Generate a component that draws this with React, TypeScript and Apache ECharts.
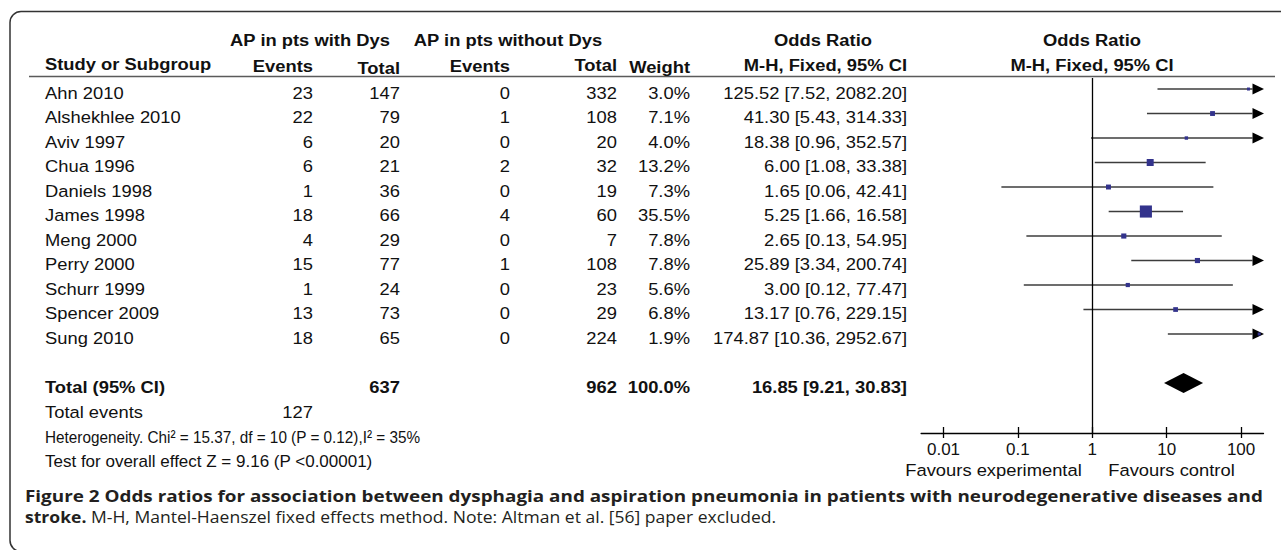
import React, { useEffect, useRef } from "react";
import * as echarts from "echarts";

// ---------- data ----------
const studies = [
  "Ahn 2010",
  "Alshekhlee 2010",
  "Aviv 1997",
  "Chua 1996",
  "Daniels 1998",
  "James 1998",
  "Meng 2000",
  "Perry 2000",
  "Schurr 1999",
  "Spencer 2009",
  "Sung 2010",
];
const eventsDys = [23, 22, 6, 6, 1, 18, 4, 15, 1, 13, 18];
const totalDys = [147, 79, 20, 21, 36, 66, 29, 77, 24, 73, 65];
const eventsNoDys = [0, 1, 0, 2, 0, 4, 0, 1, 0, 0, 0];
const totalNoDys = [332, 108, 20, 32, 19, 60, 7, 108, 23, 29, 224];
const weights = [3.0, 7.1, 4.0, 13.2, 7.3, 35.5, 7.8, 7.8, 5.6, 6.8, 1.9];
const oddsRatios = [125.52, 41.3, 18.38, 6.0, 1.65, 5.25, 2.65, 25.89, 3.0, 13.17, 174.87];
const ciLower = [7.52, 5.43, 0.96, 1.08, 0.06, 1.66, 0.13, 3.34, 0.12, 0.76, 10.36];
const ciUpper = [2082.2, 314.33, 352.57, 33.38, 42.41, 16.58, 54.95, 200.74, 77.47, 229.15, 2952.67];

const pooledOR = 16.85;
const pooledLower = 9.21;
const pooledUpper = 30.83;
const totalWeight = 100.0;

const tickValues = [0.01, 0.1, 1, 10, 100];
const tickLabels = ["0.01", "0.1", "1", "10", "100"];
const axisMinOR = 0.005;
const axisMaxOR = 200;

const heterogeneityText = "Heterogeneity. Chi\u00B2 = 15.37, df = 10 (P = 0.12),I\u00B2 = 35%";
const overallEffectText = "Test for overall effect Z = 9.16 (P <0.00001)";
const captionLine1 =
  "Figure 2 Odds ratios for association between dysphagia and aspiration pneumonia in patients with neurodegenerative diseases and";
const captionBold2 = "stroke.";
const captionRest2 = " M-H, Mantel-Haenszel fixed effects method. Note: Altman et al. [56] paper excluded.";

// ---------- layout ----------
const W = 1281;
const H = 550;
const FONT = '"Liberation Sans", Arial, sans-serif';
const CAP_FONT = '"Open Sans", sans-serif';
const FS = 17;
const SX = 1.08;
const TEXT_COLOR = "#111";
const CAP_COLOR = "#231f20";
const rowY = (i: number) => 93 + 24.5 * i;
const TOTAL_ROW = 12;
const colRight = { ev1: 313, tot1: 400, ev2: 510, tot2: 617, weight: 690, or: 907 };
const nameX = 45;

const L = Math.log10;
const fmt2 = (v: number) => v.toFixed(2);

function txt(
  text: string,
  x: number,
  y: number,
  align: string,
  bold = false,
  sx = SX,
  extra: any = {}
) {
  return {
    type: "text",
    x,
    y,
    scaleX: sx,
    silent: true,
    style: {
      text,
      x: 0,
      y: 0,
      align,
      verticalAlign: "middle",
      fontSize: FS,
      fontFamily: FONT,
      fontWeight: bold ? "bold" : "normal",
      fill: TEXT_COLOR,
      ...extra,
    },
  };
}

export default function App() {
  const ref = useRef<HTMLDivElement>(null);

  useEffect(() => {
    if (!ref.current) return;
    const chart = echarts.init(ref.current, undefined, { renderer: "svg" });

    const sum = (a: number[]) => a.reduce((s, v) => s + v, 0);
    const totDys = sum(totalDys);
    const totNoDys = sum(totalNoDys);
    const totEvents = sum(eventsDys);

    const xMin = L(axisMinOR);
    const xMax = L(axisMaxOR);

    const ciData = studies.map((_, i) => [
      L(ciLower[i]),
      L(ciUpper[i]),
      L(oddsRatios[i]),
      i,
      weights[i],
    ]);
    const pooledData = [[L(pooledLower), L(pooledUpper), L(pooledOR), TOTAL_ROW]];

    const graphics: any[] = [];
    // frame
    graphics.push({
      type: "rect",
      silent: true,
      shape: { x: 10, y: 11.5, width: 1400, height: 540, r: 11 },
      style: { fill: "none", stroke: "#333", lineWidth: 1.5 },
    });
    // header underline
    graphics.push({
      type: "line",
      silent: true,
      shape: { x1: 29, y1: 76.5, x2: 1275, y2: 76.5 },
      style: { stroke: "#5a5a5a", lineWidth: 1.5 },
    });
    // header rows
    graphics.push(txt("AP in pts with Dys", 310, 40, "center", true));
    graphics.push(txt("AP in pts without Dys", 508, 40, "center", true));
    graphics.push(txt("Odds Ratio", 823, 40, "center", true));
    graphics.push(txt("Odds Ratio", 1092, 40, "center", true));
    graphics.push(txt("Study or Subgroup", nameX, 64, "left", true));
    graphics.push(txt("Events", colRight.ev1, 66, "right", true));
    graphics.push(txt("Total", colRight.tot1, 68.5, "right", true));
    graphics.push(txt("Events", colRight.ev2, 66, "right", true));
    graphics.push(txt("Total", colRight.tot2, 65, "right", true));
    graphics.push(txt("Weight", colRight.weight, 67.5, "right", true));
    graphics.push(txt("M-H, Fixed, 95% CI", colRight.or, 65, "right", true));
    graphics.push(txt("M-H, Fixed, 95% CI", 1092, 65, "center", true));

    // study rows
    studies.forEach((s, i) => {
      const y = rowY(i);
      graphics.push(txt(s, nameX, y, "left"));
      graphics.push(txt(String(eventsDys[i]), colRight.ev1, y, "right"));
      graphics.push(txt(String(totalDys[i]), colRight.tot1, y, "right"));
      graphics.push(txt(String(eventsNoDys[i]), colRight.ev2, y, "right"));
      graphics.push(txt(String(totalNoDys[i]), colRight.tot2, y, "right"));
      graphics.push(txt(weights[i].toFixed(1) + "%", colRight.weight, y, "right"));
      graphics.push(
        txt(
          `${fmt2(oddsRatios[i])} [${fmt2(ciLower[i])}, ${fmt2(ciUpper[i])}]`,
          colRight.or,
          y,
          "right"
        )
      );
    });

    // total row
    const ty = rowY(TOTAL_ROW);
    graphics.push(txt("Total (95% CI)", nameX, ty, "left", true));
    graphics.push(txt(String(totDys), colRight.tot1, ty, "right", true));
    graphics.push(txt(String(totNoDys), colRight.tot2, ty, "right", true));
    graphics.push(txt(totalWeight.toFixed(1) + "%", colRight.weight, ty, "right", true));
    graphics.push(
      txt(`${fmt2(pooledOR)} [${fmt2(pooledLower)}, ${fmt2(pooledUpper)}]`, colRight.or, ty, "right", true)
    );
    graphics.push(txt("Total events", nameX, 412, "left"));
    graphics.push(txt(String(totEvents), colRight.ev1, 412, "right"));
    graphics.push(txt(heterogeneityText, nameX, 436.5, "left", false, 0.9));
    graphics.push(txt(overallEffectText, nameX, 461, "left", false, 1.0));

    // favours labels
    graphics.push(txt("Favours experimental", 993.5, 470, "center"));
    graphics.push(txt("Favours control", 1171.5, 470, "center"));

    // caption
    graphics.push({
      type: "text",
      x: 25,
      y: 495,
      scaleX: 1.144,
      silent: true,
      style: {
        text: captionLine1,
        x: 0,
        y: 0,
        align: "left",
        verticalAlign: "middle",
        fontSize: 16.5,
        fontFamily: CAP_FONT,
        fontWeight: "bold",
        fill: CAP_COLOR,
      },
    });
    graphics.push({
      type: "text",
      x: 25,
      y: 517,
      scaleX: 1.064,
      silent: true,
      style: {
        text: `{b|${captionBold2}}{r|${captionRest2}}`,
        x: 0,
        y: 0,
        align: "left",
        verticalAlign: "middle",
        fontSize: 16.5,
        fontFamily: CAP_FONT,
        fill: CAP_COLOR,
        rich: {
          b: { fontWeight: "bold", fontSize: 16.5, fontFamily: CAP_FONT, fill: CAP_COLOR },
          r: { fontWeight: "normal", fontSize: 16.5, fontFamily: CAP_FONT, fill: CAP_COLOR },
        },
      },
    });

    const tickLogs = tickValues.map((v) => L(v));
    const labelFor = (v: number) => {
      const idx = tickLogs.findIndex((t) => Math.abs(t - v) < 1e-9);
      return idx >= 0 ? tickLabels[idx] : "";
    };

    const option: any = {
      animation: false,
      backgroundColor: "#fff",
      grid: { left: 921.1, right: W - 1263.5, top: 78, bottom: H - 433, containLabel: false },
      xAxis: [
        {
          type: "value",
          min: xMin,
          max: xMax,
          position: "bottom",
          axisLine: { show: true, onZero: false, lineStyle: { color: "#000", width: 1.3 } },
          axisTick: {
            show: true,
            customValues: tickLogs,
            length: 5,
            lineStyle: { color: "#000", width: 1.3 },
          },
          axisLabel: {
            show: true,
            customValues: tickLogs,
            formatter: (v: number) => labelFor(v),
            color: "#111",
            fontSize: 17,
            fontFamily: FONT,
            margin: 8,
          },
          splitLine: { show: false },
        },
        {
          type: "value",
          min: xMin,
          max: xMax,
          position: "bottom",
          axisLine: { show: false, onZero: false },
          axisTick: {
            show: true,
            inside: true,
            customValues: tickLogs,
            length: 6,
            lineStyle: { color: "#000", width: 1.3 },
          },
          axisLabel: { show: false },
          splitLine: { show: false },
        },
      ],
      yAxis: {
        type: "value",
        inverse: true,
        min: -0.45,
        max: 14.04,
        show: false,
      },
      graphic: { elements: graphics },
      series: [
        {
          type: "custom",
          xAxisIndex: 0,
          yAxisIndex: 0,
          clip: false,
          silent: true,
          data: ciData,
          renderItem: (params: any, api: any) => {
            const loRaw = api.value(0);
            const hiRaw = api.value(1);
            const lo = Math.max(loRaw, xMin);
            const hi = Math.min(hiRaw, xMax);
            const row = api.value(3);
            const p0 = api.coord([lo, row]);
            const p1 = api.coord([hi, row]);
            const pc = api.coord([api.value(2), row]);
            const size = Math.max(3, 2.2 * Math.sqrt(api.value(4)) - 1);
            const arrowLen = 11;
            const arrowHalf = 5.5;
            const rightArrow = hiRaw > xMax;
            const leftArrow = loRaw < xMin;
            const children: any[] = [];
            children.push({
              type: "line",
              shape: {
                x1: leftArrow ? p0[0] + arrowLen : p0[0],
                y1: p0[1],
                x2: rightArrow ? p1[0] - arrowLen : p1[0],
                y2: p1[1],
              },
              style: { stroke: "#3c3c3c", lineWidth: 1.4 },
            });
            if (rightArrow) {
              children.push({
                type: "polygon",
                shape: {
                  points: [
                    [p1[0] + 0.5, p1[1]],
                    [p1[0] - arrowLen, p1[1] - arrowHalf],
                    [p1[0] - arrowLen, p1[1] + arrowHalf],
                  ],
                },
                style: { fill: "#000" },
              });
            }
            if (leftArrow) {
              children.push({
                type: "polygon",
                shape: {
                  points: [
                    [p0[0], p0[1]],
                    [p0[0] + arrowLen, p0[1] - arrowHalf],
                    [p0[0] + arrowLen, p0[1] + arrowHalf],
                  ],
                },
                style: { fill: "#000" },
              });
            }
            children.push({
              type: "rect",
              shape: { x: pc[0] - size / 2, y: pc[1] - size / 2, width: size, height: size },
              style: { fill: "#33338c" },
            });
            return { type: "group", children };
          },
          markLine: {
            silent: true,
            symbol: "none",
            label: { show: false },
            lineStyle: { color: "#000", width: 1.3, type: "solid" },
            data: [{ xAxis: 0 }],
          },
        },
        {
          type: "custom",
          xAxisIndex: 0,
          yAxisIndex: 0,
          clip: false,
          silent: true,
          data: pooledData,
          renderItem: (params: any, api: any) => {
            const row = api.value(3);
            const a = api.coord([api.value(0), row]);
            const b = api.coord([api.value(1), row]);
            const c = api.coord([api.value(2), row]);
            const h = 10;
            return {
              type: "polygon",
              shape: {
                points: [
                  [a[0], a[1]],
                  [c[0], c[1] - h],
                  [b[0], b[1]],
                  [c[0], c[1] + h],
                ],
              },
              style: { fill: "#000" },
            };
          },
        },
      ],
    };

    chart.setOption(option);
    return () => chart.dispose();
  }, []);

  return (
    <div
      ref={ref}
      style={{ position: "absolute", left: 0, top: 0, width: W, height: H, background: "#fff" }}
    />
  );
}
